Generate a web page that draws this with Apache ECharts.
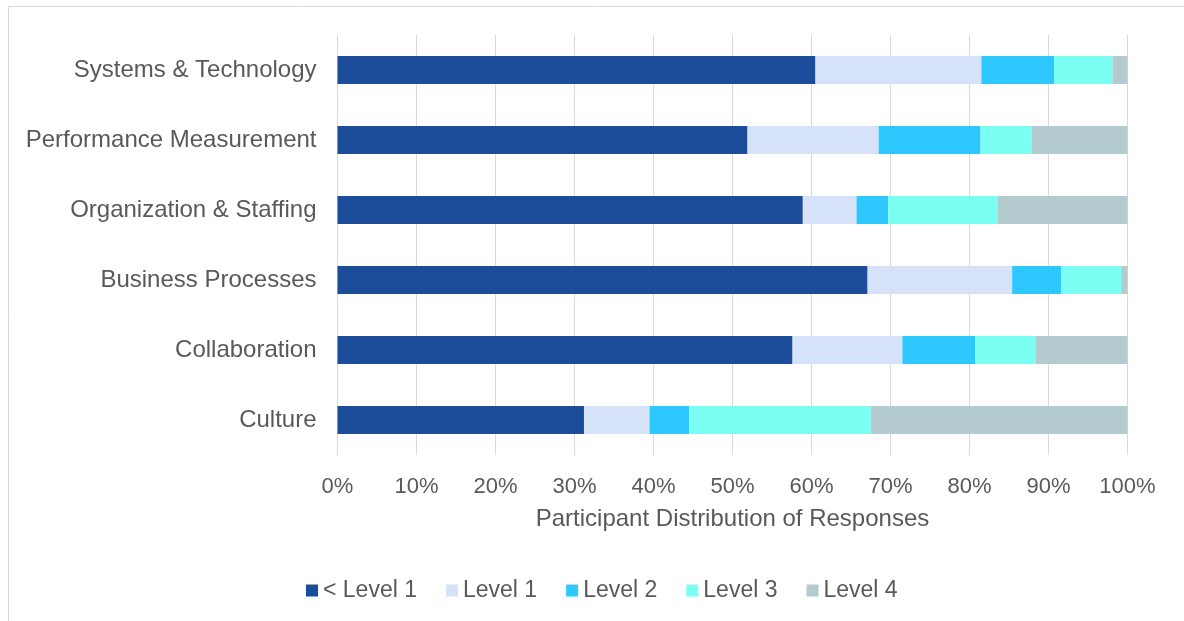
<!DOCTYPE html>
<html>
<head>
<meta charset="utf-8">
<script src="https://cdn.jsdelivr.net/npm/echarts@6/dist/echarts.min.js"></script>
<style>
  html, body { margin: 0; padding: 0; background: #ffffff; }
  #chart { width: 1184px; height: 621px; }
</style>
</head>
<body>
<div id="chart"></div>
<script>
// Capability areas, listed top to bottom
const categories = [
  "Systems & Technology",
  "Performance Measurement",
  "Organization & Staffing",
  "Business Processes",
  "Collaboration",
  "Culture"
];

// Share of participants (%) at each maturity level, per area
const belowLevel1 = [60.5, 51.9, 58.9, 67.1, 57.6, 31.2];
const level1      = [21.0, 16.6,  6.8, 18.3, 13.9,  8.3];
const level2      = [ 9.2, 12.9,  4.0,  6.2,  9.2,  5.0];
const level3      = [ 7.4,  6.5, 13.9,  7.6,  7.7, 23.0];
const level4      = [ 1.9, 12.1, 16.4,  0.8, 11.6, 32.5];

const seriesNames = ["< Level 1", "Level 1", "Level 2", "Level 3", "Level 4"];
const seriesColors = ["#1B4D9A", "#D6E2F7", "#2EC8FF", "#7BFFF3", "#B3CBCE"];
const seriesData = [belowLevel1, level1, level2, level3, level4];

const axisTitle = "Participant Distribution of Responses";
const textColor = "#595959";
const fontFamily = "'Liberation Sans', Arial, sans-serif";

const chart = echarts.init(document.getElementById("chart"), null, { renderer: "canvas" });

chart.setOption({
  animation: false,
  backgroundColor: "#ffffff",
  textStyle: { fontFamily: fontFamily },
  graphic: [{
    type: "rect",
    silent: true,
    shape: { x: 8.5, y: 6.5, width: 1400, height: 800 },
    style: { fill: "none", stroke: "#d9d9d9", lineWidth: 1 }
  }],
  grid: { left: 337.5, right: 56.5, top: 35, bottom: 166, containLabel: false },
  legend: {
    data: seriesNames,
    top: 574,
    left: 301,
    icon: "rect",
    itemWidth: 12,
    itemHeight: 12,
    itemGap: 29,
    textStyle: { color: textColor, fontSize: 23, fontFamily: fontFamily }
  },
  xAxis: {
    type: "value",
    min: 0,
    max: 100,
    interval: 10,
    name: axisTitle,
    nameLocation: "middle",
    nameGap: 52,
    nameTextStyle: { color: textColor, fontSize: 24, fontFamily: fontFamily },
    axisLine: { show: false },
    axisTick: { show: false },
    axisLabel: {
      formatter: "{value}%",
      color: textColor,
      fontSize: 22,
      margin: 21,
      fontFamily: fontFamily
    },
    splitLine: { show: true, lineStyle: { color: "#d9d9d9", width: 1 } }
  },
  yAxis: {
    type: "category",
    data: categories,
    inverse: true,
    axisLine: { show: false },
    axisTick: { show: false },
    axisLabel: { color: textColor, fontSize: 24, margin: 21, fontFamily: fontFamily },
    splitLine: { show: false }
  },
  series: seriesNames.map((name, i) => ({
    name: name,
    type: "bar",
    stack: "total",
    barWidth: "40%",
    itemStyle: { color: seriesColors[i] },
    data: seriesData[i]
  }))
});
</script>
</body>
</html>
